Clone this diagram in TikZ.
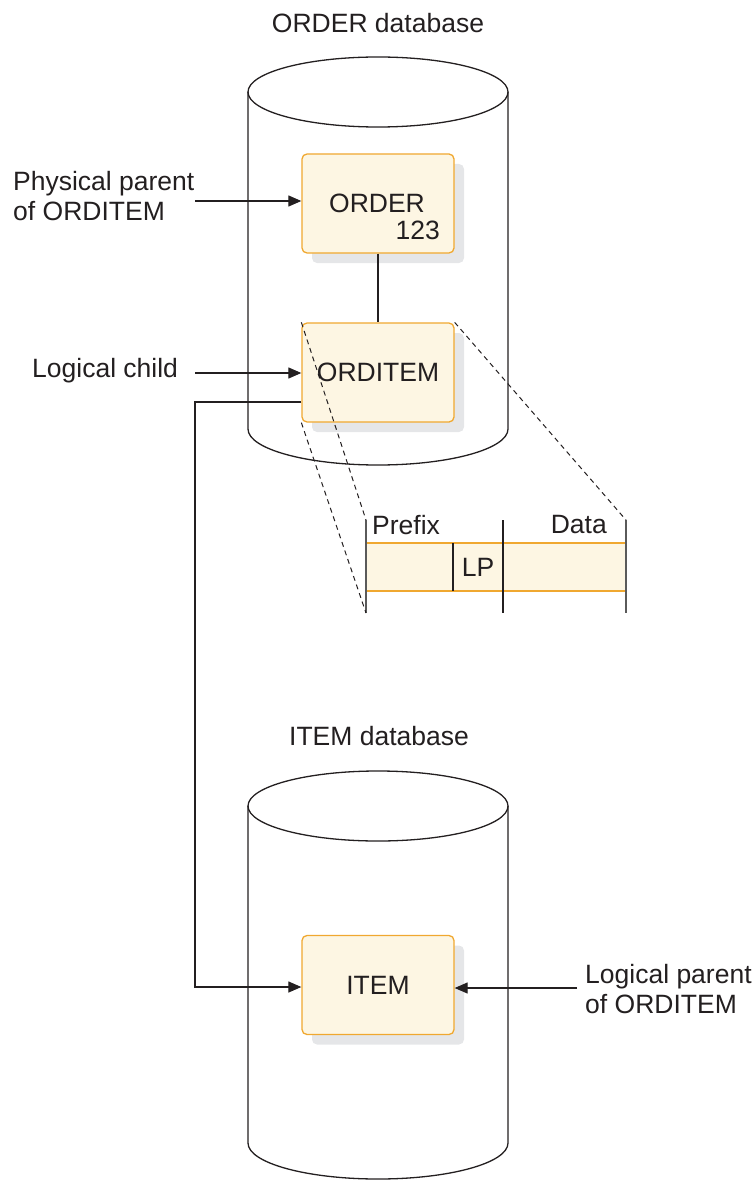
\documentclass[tikz,border=0pt]{standalone}
\usepackage{fontspec}
\setmainfont{Liberation Sans}
\usetikzlibrary{arrows.meta,shadows}
\definecolor{ink}{HTML}{231F20}
\definecolor{boxfill}{HTML}{FDF6E3}
\definecolor{boxline}{HTML}{F0A830}
\definecolor{shadowc}{HTML}{E5E6E8}
\definecolor{tallc}{HTML}{5A5A5A}
\begin{document}
\begin{tikzpicture}[x=1pt,y=-1pt,
  every node/.style={font=\fontsize{26.5}{30}\selectfont, text=ink, inner sep=0pt},
  cyl/.style={draw=ink, line width=1.3pt},
  recbox/.style={draw=boxline, fill=boxfill, line width=1.3pt, rounded corners=5pt,
    minimum width=152pt, minimum height=99pt,
    drop shadow={shadow xshift=10pt, shadow yshift=-10pt, fill=shadowc, opacity=1}},
  conn/.style={draw=ink, line width=1.2pt},
  arr/.style={conn, -{Triangle[length=13pt,width=11pt]}},
  dashln/.style={draw=ink, line width=1pt, dash pattern=on 5pt off 4pt},
  tall/.style={draw=tallc, line width=1.8pt},
  thinln/.style={draw=ink, line width=1.1pt},
  barline/.style={draw=boxline, line width=1.5pt}
]
\useasboundingbox (0,0) rectangle (755,1182);

% ORDER database cylinder
\node (orderdb) at (378,23) {ORDER database};
\draw[cyl] (378,92) ellipse [x radius=130pt, y radius=35pt];
\draw[cyl] (248,92) -- (248,429) arc[start angle=180, end angle=360, x radius=130pt, y radius=36pt] -- (508,92);

% ITEM database cylinder
\node (itemdb) at (379,736) {ITEM database};
\draw[cyl] (378,806) ellipse [x radius=130pt, y radius=35pt];
\draw[cyl] (248,806) -- (248,1143) arc[start angle=180, end angle=360, x radius=130pt, y radius=36pt] -- (508,806);

% segments
\node[recbox] (order) at (378,203.5) {};
\node (ordertxt) at (377,203) {ORDER};
\node[anchor=east] (num) at (440,230) {123};
\node[recbox] (orditem) at (378,372.5) {ORDITEM};
\node[recbox] (item) at (378,985) {ITEM};

\draw[conn] (order.south) -- (orditem.north);

% labels
\node[anchor=west, align=left] (pp) at (13,196) {Physical parent\\of ORDITEM};
\node[anchor=west] (lc) at (32,371) {Logical child};
\node[anchor=west, align=left] (lp) at (585,989) {Logical parent\\of ORDITEM};

\coordinate (ppa) at (195,201);
\coordinate (lca) at (195,373);
\coordinate (lpa) at (577,988);
\coordinate (lk1) at (195,402);
\coordinate (lk2) at (195,987);

\draw[arr] (ppa) -- (ppa -| order.west);
\draw[arr] (lca) -- (lca -| orditem.west);
\draw[arr] (lpa) -- (lpa -| item.east);
\draw[arr] (lk1 -| orditem.west) -- (lk1) -- (lk2) -- (lk2 -| item.west);

% record layout
\node[fill=boxfill, minimum width=260pt, minimum height=48pt] (bar) at (496,567) {};
\draw[barline] (bar.north west) -- (bar.north east);
\draw[barline] (bar.south west) -- (bar.south east);
\coordinate (t1) at (366,520);
\coordinate (b1) at (366,613);
\coordinate (t2) at (503,520);
\coordinate (b2) at (503,613);
\coordinate (t3) at (626,520);
\coordinate (b3) at (626,613);
\draw[tall] (t1) -- (b1);
\draw[tall] (t3) -- (b3);
\draw[thinln] (t2) -- (b2);
\draw[thinln] (453,543) -- (453,591);
\node[anchor=west] (prefix) at (372,525) {Prefix};
\node[anchor=east] (data) at (607,525) {Data};
\node (lp2) at (478,567) {LP};

\draw[dashln] (orditem.north west) -- (t1);
\draw[dashln] (orditem.south west) -- (b1);
\draw[dashln] (orditem.north east) -- (t3);
\end{tikzpicture}
\end{document}
